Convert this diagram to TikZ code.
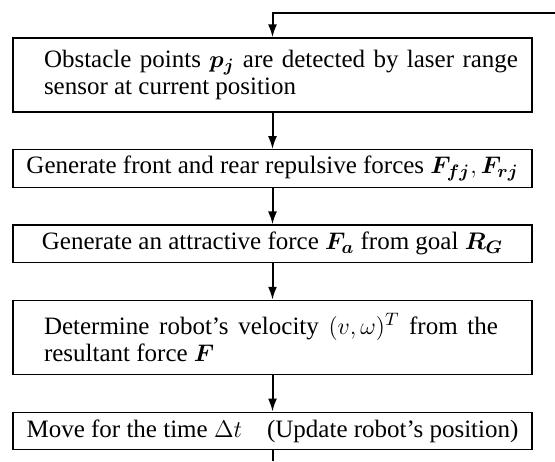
\documentclass[tikz,border=0pt]{standalone}
\usepackage{amsmath}
\usepackage{fontspec}
\setmainfont{Liberation Serif}
\usetikzlibrary{arrows.meta,positioning}

% indented paragraph inside a full-width box
\newcommand{\indentpar}[2]{\makebox[259.5pt][l]{\hspace{15.5pt}\parbox{#1}{#2}}}

\begin{document}
\begin{tikzpicture}[
    x=0.5pt, y=0.5pt,
    node distance=18.25pt,
    stepbox/.style={draw, line width=0.65pt, minimum width=259.5pt, minimum height=18.75pt, inner sep=0pt, align=center, font=\fontsize{12.5}{13.5}\selectfont},
    tallbox/.style={stepbox, minimum height=37pt},
    arr/.style={-{Latex[length=6.5pt,width=4.5pt]}, line width=1pt}
]
\useasboundingbox (0,0) rectangle (555,-461);
\node[tallbox] (detect) at (272.5,-75) {\indentpar{237pt}{Obstacle points $\boldsymbol{p_j}$ are detected by laser range\linebreak sensor at current position}};
\node[stepbox, below=of detect] (repulse) {Generate front and rear repulsive forces $\boldsymbol{F_{fj}}, \boldsymbol{F_{rj}}$};
\node[stepbox, below=of repulse] (attract) {Generate an attractive force $\boldsymbol{F_a}$ from goal $\boldsymbol{R_G}$};
\node[tallbox, below=of attract] (velocity) {\indentpar{227pt}{Determine robot's velocity $(v,\omega)^T$ from the\linebreak resultant force $\boldsymbol{F}$}};
\node[stepbox, below=of velocity] (move) {Move for the time $\Delta t$\quad(Update robot's position)};
% loop back from the right, leave at the bottom
\coordinate (back) at (555,-13);
\coordinate (out) at (272.5,-461);
\draw[arr] (back) -| (detect.north);
\draw[arr] (detect) -- (repulse);
\draw[arr] (repulse) -- (attract);
\draw[arr] (attract) -- (velocity);
\draw[arr] (velocity) -- (move);
\draw[line width=1pt] (move) -- (out);
\end{tikzpicture}
\end{document}
